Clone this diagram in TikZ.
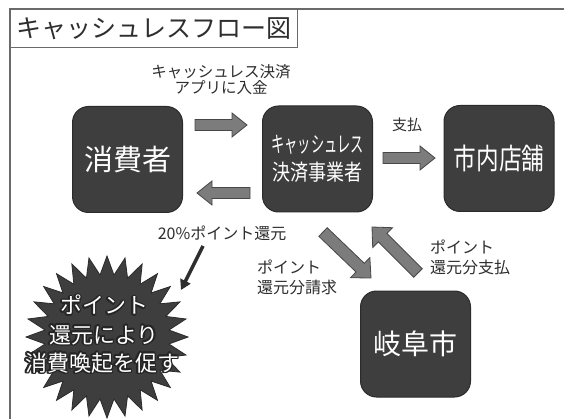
\documentclass[tikz,border=0pt]{standalone}
\usepackage{fontspec}
\usepackage{graphicx}
\setmainfont{Noto Sans CJK JP}
\usetikzlibrary{shapes.geometric,calc,arrows.meta}
\definecolor{boxfill}{HTML}{3E3E3E}
\definecolor{arrowfill}{HTML}{7C7C7C}
\definecolor{arrowline}{HTML}{474747}
\definecolor{labelcol}{HTML}{2E2E2E}
\definecolor{framecol}{HTML}{6A6A6A}

\newcommand\blockarrow[4]{%
  \coordinate (bah) at ($(#2)!15pt!(#1)$);
  \filldraw[fill=arrowfill,draw=arrowline,line width=0.8pt,line join=miter]
   ($(#1)!#3!90:(#2)$) -- ($(bah)!#3!90:(#2)$) -- ($(bah)!#4!90:(#2)$) -- (#2)
   -- ($(bah)!#4!-90:(#2)$) -- ($(bah)!#3!-90:(#2)$) -- ($(#1)!#3!-90:(#2)$) -- cycle;
}
\newcommand\outlinetext[3]{%
  \foreach \ang in {0,30,...,330} {%
    \node[startext, text=boxfill!60!black] (#1-\ang) at ($(#2)+(\ang:1.7pt)$) {#3};}
  \node[startext, text=white] (#1) at (#2) {#3};
}

\tikzset{
  box/.style={draw=boxfill!70!black, fill=boxfill, rounded corners=16pt,
    minimum width=110pt, minimum height=106pt, text=white, inner sep=0pt, line width=1pt},
  lbl/.style={text=labelcol, font=\fontsize{16pt}{20pt}\selectfont, inner sep=0pt, align=left},
  startext/.style={font=\fontsize{22pt}{22pt}\selectfont, inner sep=0pt},
}

\begin{document}
\begin{tikzpicture}[x=1pt,y=-1pt]
\useasboundingbox (0,0) rectangle (564,419);
\fill[white] (0,0) rectangle (564,419);

% frame and title
\draw[framecol, line width=1.2pt] (564,9) -- (10,9) -- (10,419);
\node[draw=framecol, line width=1.2pt, minimum width=287pt, minimum height=38pt,
  anchor=north west, inner sep=0pt, text=labelcol] (title) at (10,9)
  {\fontsize{25pt}{25pt}\selectfont キャッシュレスフロー図};

% main boxes
\node[box, font=\fontsize{29pt}{32pt}\selectfont] (consumer) at (127.5,159.5) {消費者};
\node[box, align=center, font=\fontsize{22pt}{28pt}\selectfont] (biz) at (317.5,159)
  {\scalebox{0.6}[1]{キャッシュレス}\\\scalebox{0.82}[1]{決済事業者}};
\node[box, font=\fontsize{29pt}{32pt}\selectfont] (store) at (499,158.5) {\scalebox{0.78}[1]{市内店舗}};
\node[box, font=\fontsize{28pt}{32pt}\selectfont] (city) at (415.5,344) {岐阜市};

% starburst
\node[star, star points=28, star point ratio=1.3, minimum size=162pt, inner sep=0pt,
  fill=boxfill, draw=boxfill!70!black, line width=0.8pt] (burst) at (107,337) {};
\outlinetext{st1}{104,305}{ポイント}
\outlinetext{st2}{104,335}{還元により}
\outlinetext{st3}{102,363}{消費喚起を促す}

% block arrows
\coordinate (a1s) at (195,125); \coordinate (a1e) at (247,125);
\coordinate (a2s) at (250,193); \coordinate (a2e) at (197,193);
\coordinate (a3s) at (383,158); \coordinate (a3e) at (435,158);
\coordinate (a4s) at (323,232); \coordinate (a4e) at (371,278);
\coordinate (a5s) at (418,273); \coordinate (a5e) at (372,227);
\blockarrow{a1s}{a1e}{5.5pt}{12pt}
\blockarrow{a2s}{a2e}{5.5pt}{12pt}
\blockarrow{a3s}{a3e}{5.5pt}{12pt}
\blockarrow{a4s}{a4e}{6pt}{14pt}
\blockarrow{a5s}{a5e}{6pt}{14pt}

% thin arrow
\coordinate (t1) at (203,246); \coordinate (t2) at (181,290);
\draw[line width=3.5pt, labelcol, -{Triangle[width=11pt,length=10pt]}] (t1) -- (t2);

% labels
\node[lbl, align=center, font=\fontsize{15.5pt}{15.5pt}\selectfont] (l1) at (221,79.5)
  {キャッシュレス決済\\アプリに入金};
\node[lbl, font=\fontsize{15pt}{15pt}\selectfont] (l2) at (407,125) {支払};
\node[lbl] (l3) at (222,233) {20\%ポイント還元};
\node[lbl, anchor=west] (l4) at (257,277) {ポイント\\還元分請求};
\node[lbl, anchor=west] (l5) at (430,257) {ポイント\\還元分支払};
\end{tikzpicture}
\end{document}
